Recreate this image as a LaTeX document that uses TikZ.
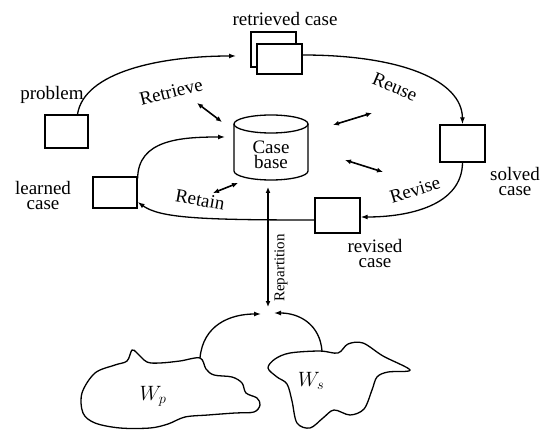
\documentclass[tikz,border=0pt]{standalone}
\usepackage{fontspec}
\setmainfont{Liberation Serif}
\usetikzlibrary{arrows.meta}
\newcommand{\diagfont}{\fontsize{19}{15}\selectfont}
\newcommand{\diagsmallfont}{\fontsize{15}{15}\selectfont}

\begin{document}
\begin{tikzpicture}[x=1pt, y=-1pt,
    casebox/.style={draw, line width=1.3pt, fill=white, minimum width=45pt, minimum height=34pt, inner sep=0pt},
    lbl/.style={font=\diagfont, align=center, inner sep=1pt},
    arr/.style={-{Latex[length=7pt,width=5pt]}, line width=1.3pt},
    dbl/.style={{Latex[length=6pt,width=5pt]}-{Latex[length=6pt,width=5pt]}, line width=1.6pt},
    cloud/.style={line width=1.3pt, smooth cycle, tension=0.55}
  ]
  \useasboundingbox (0,0) rectangle (543,430);

  % the four cases round the loop
  \node[casebox, minimum width=43pt, minimum height=33pt] (problem) at (66.5,131.5) {};
  \node[lbl] (problemlbl) at (52,95) {problem};
  \node[casebox, minimum height=35pt] (retrback) at (273.5,49.5) {};
  \node[casebox, minimum height=30pt] (retrieved) at (279.5,59) {};
  \node[lbl] (retrlbl) at (285,19) {retrieved case};
  \node[casebox, minimum height=37pt] (solved) at (462.5,143.5) {};
  \node[lbl] (solvedlbl) at (515,182) {solved\\case};
  \node[casebox, minimum height=35pt] (revised) at (337.5,215.5) {};
  \node[lbl] (revisedlbl) at (375,254) {revised\\case};
  \node[casebox, minimum width=44pt, minimum height=31pt] (learned) at (115,192.5) {};
  \node[lbl] (learnedlbl) at (43,196) {learned\\case};

  % case base (cylinder)
  \draw[line width=1.3pt] (271,124) ellipse [x radius=37pt, y radius=9pt];
  \draw[line width=1.3pt] (234,124) -- (234,171) arc[start angle=180, end angle=360, x radius=37pt, y radius=9pt] -- (308,124);
  \node[lbl] (casebase) at (271,155) {Case\\base};

  % step labels
  \node[lbl, rotate=14] (retrievelbl) at (171,92) {Retrieve};
  \node[lbl, rotate=-23] (reuselbl) at (395,87) {Reuse};
  \node[lbl, rotate=17] (reviselbl) at (415,190) {Revise};
  \node[lbl, rotate=-10] (retainlbl) at (200,200) {Retain};
  \node[lbl, font=\diagsmallfont, rotate=90] (replbl) at (281,268) {Repartition};

  \coordinate (retrin) at (236,56);
  \coordinate (cbin) at (225,137);
  \coordinate (reptop) at (268,187);
  \coordinate (repbot) at (268,307);
  \coordinate (wptop) at (200,358);
  \coordinate (wstop) at (322,351);
  \coordinate (lin) at (261,314);
  \coordinate (rin) at (274,313);

  % the loop
  \draw[arr] ([xshift=11pt]problem.north) .. controls (84,72) and (160,56) .. (retrin);
  \draw[arr] ([yshift=4pt]retrieved.east) .. controls (400,55) and (462,80) .. (solved.north);
  \draw[arr] (solved.south) .. controls (462,205) and (410,217) .. ([yshift=-1.5pt]revised.east);
  \draw[arr] ([yshift=-4.5pt]revised.west) .. controls (200,220) and (160,218) .. ([yshift=-9.5pt]learned.east);
  \draw[arr] ([yshift=-2pt]learned.north east) .. controls (138,140) and (180,137) .. (cbin);

  % links with the case base
  \coordinate (retrieveA) at (197,103);
  \coordinate (retrieveB) at (222,122);
  \coordinate (reuseA) at (333,125);
  \coordinate (reuseB) at (372,113);
  \coordinate (reviseA) at (345,160);
  \coordinate (reviseB) at (383,172);
  \coordinate (retainA) at (213,193);
  \coordinate (retainB) at (238,183);
  \draw[dbl] (retrieveA) -- (retrieveB);
  \draw[dbl] (reuseA) -- (reuseB);
  \draw[dbl] (reviseA) -- (reviseB);
  \draw[dbl] (retainA) -- (retainB);
  \draw[dbl] (repbot) -- (reptop);

  % the two worlds
  \draw[cloud] plot coordinates {(82,393) (95,373) (115,365) (127,361) (132,350) (137,353) (147,362)
    (160,363) (180,361) (200,358) (206,369) (214,375) (232,377) (242,383) (246,393) (257,398)
    (260,405) (254,412) (235,413) (208,415) (185,417) (168,424) (150,428) (120,428) (95,423) (83,413)};
  \draw[cloud] plot coordinates {(268,368) (275,359) (290,353) (320,351) (338,353) (348,344) (363,343)
    (383,356) (410,370) (388,372) (377,377) (372,390) (364,409) (350,415) (334,410) (323,418)
    (310,428) (297,423) (292,401) (287,384) (277,377)};
  \node[lbl, font=\fontsize{20}{20}\selectfont] (wp) at (153,396) {$W_p$};
  \node[lbl, font=\fontsize{20}{20}\selectfont] (ws) at (311,381) {$W_s$};

  \draw[arr] (wptop) .. controls (203,325) and (230,314) .. (lin);
  \draw[arr] (wstop) .. controls (320,325) and (300,313) .. (rin);
\end{tikzpicture}
\end{document}
